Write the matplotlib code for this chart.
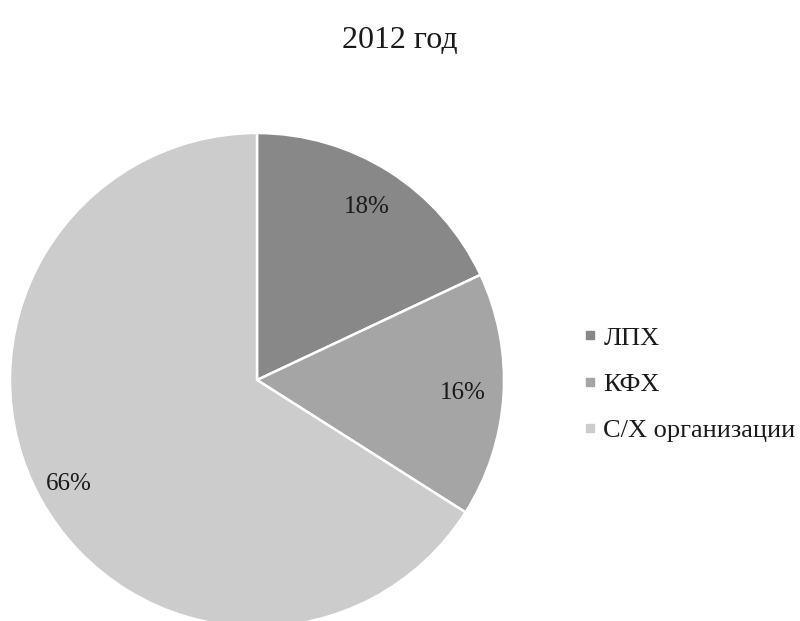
import matplotlib
matplotlib.use('Agg')
import matplotlib.pyplot as plt
from matplotlib.lines import Line2D
import numpy as np

title = "2012 год"
categories = ["ЛПХ", "КФХ", "С/Х организации"]
shares = [18, 16, 66]
colors = ["#888888", "#a5a5a5", "#cccccc"]
label_dist = [0.83, 0.835, 0.87]

plt.rcParams['font.family'] = ['Liberation Serif', 'DejaVu Serif']

fig = plt.figure(figsize=(8, 6.21), dpi=100)
# axes placed so that the pie centre sits at (257, 380) px with radius ~247 px
ax = fig.add_axes([0.0125, -0.0097, 0.6175, 0.7955])

wedges, texts = ax.pie(shares, colors=colors, startangle=90, counterclock=False,
                       labels=[f"{s}%" for s in shares], labeldistance=0.83,
                       wedgeprops=dict(edgecolor='white', linewidth=1.8),
                       textprops=dict(fontsize=18, color='#1a1a1a'))
# move labels to Excel-like distances
for w, t, d in zip(wedges, texts, label_dist):
    ang = np.deg2rad((w.theta1 + w.theta2) / 2)
    t.set_position((d * np.cos(ang), d * np.sin(ang)))
    t.set_ha('center')
    t.set_va('center')
ax.set_xlim(-1, 1)
ax.set_ylim(-1, 1)
ax.set_aspect('equal')
ax.axis('off')

fig.text(0.5, 1 - 40 / 621, title, ha='center', va='center', fontsize=23, color='#1a1a1a')

handles = [Line2D([], [], marker='s', linestyle='none', markersize=6,
                  markerfacecolor=c, markeredgecolor=c) for c in colors]
fig.legend(handles, categories, loc='center left', bbox_to_anchor=(0.713, 1 - 384 / 621),
           frameon=False, fontsize=19, handlelength=0.5, handletextpad=0.25,
           labelspacing=0.86, borderpad=0, labelcolor='#1a1a1a')

fig.savefig('out.png', dpi=100)
